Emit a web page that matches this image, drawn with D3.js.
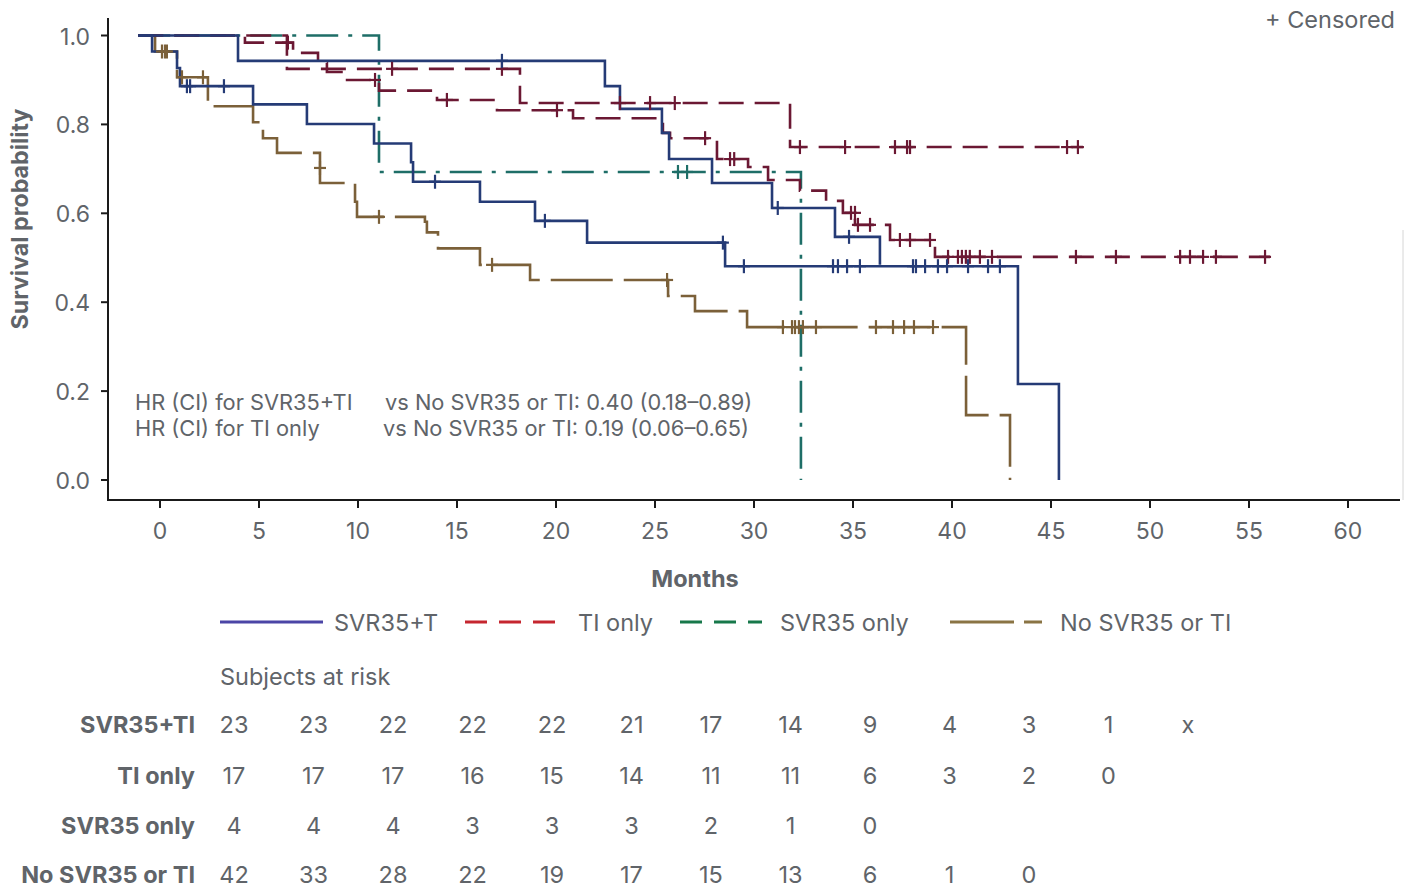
<!DOCTYPE html>
<html><head><meta charset="utf-8">
<script src="https://cdn.jsdelivr.net/npm/d3@7"></script>
<style>
html,body{margin:0;padding:0;background:#fff;}
svg{display:block;font-family:Inter,"Noto Sans",sans-serif;}
</style></head>
<body>
<svg id="chart" width="1411" height="889"></svg>
<script>
// ---------- DATA ----------
const xTickLabels = [0,5,10,15,20,25,30,35,40,45,50,55,60];
const yTickLabels = [0,0.2,0.4,0.6,0.8,1.0];

// Kaplan-Meier steps: [month, survival after step]
const svrTiUpperStart = -1.1;
const svrTiUpper = [[3.94,0.943],[22.47,0.886],[23.23,0.835],[25.35,0.781],[25.71,0.722],[27.88,0.668],[30.91,0.612],[34.09,0.547],[36.36,0.484]];
const svrTiUpperEnd = 36.36;
const svrTiUpperCens = [[17.27,0.943],[31.2,0.612],[34.8,0.547]];

const svrTiLowerStart = -1.1;
const svrTiLower = [[-0.4,0.964],[0.86,0.927],[1.01,0.886],[4.70,0.845],[7.42,0.801],[10.81,0.757],[12.68,0.715],[12.78,0.671],[16.16,0.626],[18.94,0.583],[21.57,0.534],[28.54,0.481],[43.33,0.216],[45.40,0.0]];
const svrTiLowerEnd = 45.40;
const svrTiLowerCens = [[1.36,0.886],[1.52,0.886],[3.23,0.886],[13.89,0.671],[19.44,0.583],[28.43,0.534],[29.49,0.481],[33.99,0.481],[34.24,0.481],[34.70,0.481],[35.35,0.481],[38.03,0.481],[38.18,0.481],[38.64,0.481],[39.29,0.481],[39.75,0.481],[40.81,0.481],[41.82,0.481],[42.42,0.481]];

const tiUpperStart = -1.1;
const tiUpper = [[6.41,0.925],[18.18,0.848],[31.82,0.749]];
const tiUpperEnd = 46.62;
const tiUpperCens = [[11.72,0.925],[17.27,0.925],[23.23,0.848],[24.75,0.848],[26.0,0.848],[32.32,0.749],[34.60,0.749],[37.12,0.749],[37.73,0.749],[37.88,0.749],[45.81,0.749],[46.36,0.749]];

const tiLowerStart = -1.1;
const tiLower = [[4.29,0.984],[6.72,0.961],[7.98,0.938],[8.43,0.918],[9.34,0.900],[11.06,0.876],[13.99,0.855],[17.02,0.832],[20.86,0.814],[25.40,0.781],[25.76,0.769],[28.13,0.722],[29.70,0.704],[30.71,0.675],[32.32,0.651],[33.64,0.628],[34.49,0.601],[35.10,0.574],[36.87,0.540],[39.14,0.502]];
const tiLowerEnd = 56.06;
const tiLowerCens = [[6.46,0.984],[10.86,0.900],[14.49,0.855],[20.05,0.832],[27.53,0.769],[28.79,0.722],[29.0,0.722],[34.9,0.601],[35.1,0.601],[35.25,0.574],[35.86,0.574],[37.37,0.540],[37.88,0.540],[38.89,0.540],[39.80,0.502],[40.30,0.502],[40.50,0.502],[40.70,0.502],[40.90,0.502],[41.41,0.502],[42.02,0.502],[46.26,0.502],[48.28,0.502],[51.52,0.502],[52.02,0.502],[52.68,0.502],[53.33,0.502],[55.81,0.502]];

const svrOnlyStart = -1.1;
const svrOnly = [[11.06,0.693],[32.37,0.0]];
const svrOnlyEnd = 32.37;
const svrOnlyCens = [[26.16,0.693],[26.62,0.693]];

const noSvrStart = -1.1;
const noSvr = [[-0.25,0.964],[0.86,0.906],[2.42,0.841],[4.70,0.805],[5.20,0.769],[5.91,0.736],[8.08,0.668],[9.85,0.626],[9.95,0.592],[13.38,0.581],[13.48,0.557],[14.04,0.521],[16.16,0.484],[18.69,0.450],[25.66,0.414],[27.02,0.380],[29.65,0.344],[40.71,0.146],[42.93,0.0]];
const noSvrEnd = 42.93;
const noSvrCens = [[0.1,0.964],[0.25,0.964],[0.35,0.964],[1.11,0.906],[2.17,0.906],[8.08,0.702],[11.06,0.592],[16.77,0.484],[25.61,0.450],[31.46,0.344],[31.92,0.344],[32.07,0.344],[32.27,0.344],[32.47,0.344],[33.13,0.344],[36.16,0.344],[37.02,0.344],[37.58,0.344],[38.08,0.344],[39.04,0.344]];

const groupNames = ["SVR35+TI","TI only","SVR35 only","No SVR35 or TI"];
const legendNames = ["SVR35+T","TI only","SVR35 only","No SVR35 or TI"];
const riskTimes = [0,5,10,15,20,25,30,35,40,45,50,55,60];
const riskSvrTi = ["23","23","22","22","22","21","17","14","9","4","3","1","x"];
const riskTi = ["17","17","17","16","15","14","11","11","6","3","2","0"];
const riskSvr = ["4","4","4","3","3","3","2","1","0"];
const riskNo = ["42","33","28","22","19","17","15","13","6","1","0"];

const hrLines = [
  ["HR (CI) for SVR35+TI","vs No SVR35 or TI: 0.40 (0.18\u20130.89)"],
  ["HR (CI) for TI only","vs No SVR35 or TI: 0.19 (0.06\u20130.65)"]
];

// ---------- STYLE ----------
const C = {navy:"#253b76", maroon:"#6b1833", teal:"#1e6e67", brown:"#7b6039", text:"#606469"};
const LC = {navy:"#4b45a6", red:"#c5262f", green:"#17784a", brown:"#8a7444"};

const svg = d3.select("#chart");
const x = d3.scaleLinear().domain([0,60]).range([160,1348]);
const y = d3.scaleLinear().domain([0,1]).range([480,35.5]);
const rx = d3.scaleLinear().domain([0,60]).range([234,1188]);

// axes lines
svg.append("line").attr("x1",108).attr("x2",108).attr("y1",18).attr("y2",500).attr("stroke","#1a1a1a").attr("stroke-width",2);
svg.append("line").attr("x1",107).attr("x2",1400).attr("y1",500).attr("y2",500).attr("stroke","#1a1a1a").attr("stroke-width",2);
svg.append("line").attr("x1",1403).attr("x2",1403).attr("y1",230).attr("y2",500).attr("stroke","#d6d6d6").attr("stroke-width",1);

// y ticks
const yt = svg.append("g");
yTickLabels.forEach(v=>{
  yt.append("line").attr("x1",101).attr("x2",108).attr("y1",y(v)).attr("y2",y(v)).attr("stroke","#1a1a1a").attr("stroke-width",2);
  yt.append("text").attr("x",90).attr("y",y(v)+1).attr("text-anchor","end").attr("dominant-baseline","central")
    .attr("font-size",23).attr("fill",C.text).text(v.toFixed(1));
});
// x ticks
xTickLabels.forEach(m=>{
  svg.append("line").attr("x1",x(m)).attr("x2",x(m)).attr("y1",500).attr("y2",508).attr("stroke","#1a1a1a").attr("stroke-width",2);
  svg.append("text").attr("x",x(m)).attr("y",531).attr("text-anchor","middle").attr("dominant-baseline","central")
    .attr("font-size",23).attr("fill",C.text).text(m);
});
svg.append("text").attr("x",695).attr("y",578).attr("text-anchor","middle").attr("dominant-baseline","central")
  .attr("font-size",23.5).attr("font-weight","bold").attr("fill",C.text).text("Months");
svg.append("text").attr("transform","translate(20,219) rotate(-90)").attr("text-anchor","middle").attr("dominant-baseline","central")
  .attr("font-size",23.2).attr("font-weight","bold").attr("fill",C.text).text("Survival probability");

svg.append("text").attr("x",1395).attr("y",19).attr("text-anchor","end").attr("dominant-baseline","central")
  .attr("font-size",23.5).attr("fill",C.text).text("+ Censored");

// HR text
hrLines.forEach((l,i)=>{
  svg.append("text").attr("x",135).attr("y",402+i*26).attr("dominant-baseline","central").attr("font-size",21.8).attr("fill",C.text).text(l[0]);
  svg.append("text").attr("x",385-i*2).attr("y",402+i*26).attr("dominant-baseline","central").attr("font-size",21.8).attr("fill",C.text).text(l[1]);
});

// curves
const line = d3.line().x(d=>x(d[0])).y(d=>y(d[1])).curve(d3.curveStepAfter);
function curve(start, steps, end, color, dash){
  const pts = [[start,1]].concat(steps);
  pts.push([end, steps[steps.length-1][1]]);
  svg.append("path").attr("d",line(pts)).attr("fill","none").attr("stroke",color)
    .attr("stroke-width",2.6).attr("stroke-dasharray",dash||null);
}
function cens(list,color){
  const g = svg.append("g").attr("stroke",color).attr("stroke-width",2.2);
  list.forEach(d=>{
    g.append("line").attr("x1",x(d[0])-6).attr("x2",x(d[0])+6).attr("y1",y(d[1])).attr("y2",y(d[1]));
    g.append("line").attr("x1",x(d[0])).attr("x2",x(d[0])).attr("y1",y(d[1])-7).attr("y2",y(d[1])+7);
  });
}
curve(svrOnlyStart, svrOnly, svrOnlyEnd, C.teal, "32,10,4,10");
curve(noSvrStart, noSvr, noSvrEnd, C.brown, "62,11");
curve(tiUpperStart, tiUpper, tiUpperEnd, C.maroon, "25,11");
curve(tiLowerStart, tiLower, tiLowerEnd, C.maroon, "25,11");
curve(svrTiUpperStart, svrTiUpper, svrTiUpperEnd, C.navy, null);
curve(svrTiLowerStart, svrTiLower, svrTiLowerEnd, C.navy, null);
cens(svrOnlyCens, C.teal);
cens(noSvrCens, C.brown);
cens(tiUpperCens, C.maroon);
cens(tiLowerCens, C.maroon);
cens(svrTiUpperCens, C.navy);
cens(svrTiLowerCens, C.navy);

// legend
const legend = [
  {x1:220,x2:323,tx:334,color:LC.navy,dash:null},
  {x1:465,x2:555,tx:578,color:LC.red,dash:"22,12"},
  {x1:680,x2:762,tx:780,color:LC.green,dash:"22,12"},
  {x1:950,x2:1042,tx:1060,color:LC.brown,dash:"64,10"}
];
legend.forEach((l,i)=>{
  svg.append("line").attr("x1",l.x1).attr("x2",l.x2).attr("y1",622).attr("y2",622).attr("stroke",l.color)
    .attr("stroke-width",3).attr("stroke-dasharray",l.dash);
  svg.append("text").attr("x",l.tx).attr("y",622).attr("dominant-baseline","central").attr("font-size",23.5)
    .attr("fill",C.text).text(legendNames[i]);
});

// risk table
svg.append("text").attr("x",220).attr("y",676).attr("dominant-baseline","central").attr("font-size",23.5)
  .attr("fill",C.text).text("Subjects at risk");
const rows = [riskSvrTi, riskTi, riskSvr, riskNo];
const rowY = [724,775,825,874];
rows.forEach((r,i)=>{
  svg.append("text").attr("x",195).attr("y",rowY[i]).attr("text-anchor","end").attr("dominant-baseline","central")
    .attr("font-size",23.5).attr("font-weight","bold").attr("fill",C.text).text(groupNames[i]);
  r.forEach((v,j)=>{
    svg.append("text").attr("x",rx(riskTimes[j])).attr("y",rowY[i]).attr("text-anchor","middle").attr("dominant-baseline","central")
      .attr("font-size",23.5).attr("fill",C.text).text(v);
  });
});
</script>
</body></html>
